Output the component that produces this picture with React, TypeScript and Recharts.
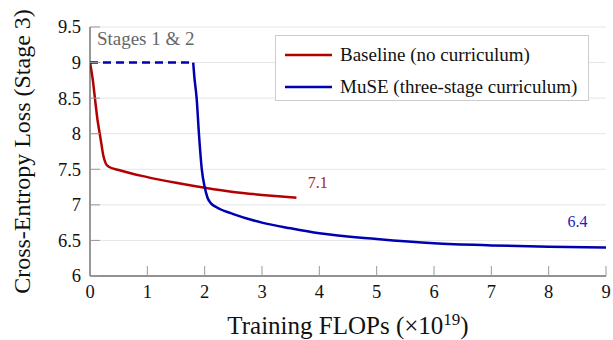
import React from 'react';
import { LineChart, Line, XAxis, YAxis, CartesianGrid, Legend, ReferenceDot } from 'recharts';

const xTicks = [0, 1, 2, 3, 4, 5, 6, 7, 8, 9];
const yTicks = [6, 6.5, 7, 7.5, 8, 8.5, 9, 9.5];

// Baseline (no curriculum)
const baselineFlops = [0, 0.05, 0.09, 0.13, 0.17, 0.2, 0.23, 0.27, 0.32, 0.5, 1, 1.5, 2, 2.5, 3, 3.6];
const baselineLoss = [9.0, 8.75, 8.47, 8.2, 8.0, 7.85, 7.7, 7.59, 7.54, 7.49, 7.39, 7.31, 7.24, 7.18, 7.14, 7.1];

// MuSE stages 1 & 2 (dashed, loss not measured on stage 3)
const stagesFlops = [0, 1.8];
const stagesLoss = [9.0, 9.0];

// MuSE stage 3
const museFlops = [1.8, 1.82, 1.86, 1.9, 1.95, 2.0, 2.05, 2.1, 2.2, 2.5, 3, 3.5, 4, 5, 6, 7, 8, 9];
const museLoss = [9.0, 8.8, 8.5, 8.0, 7.5, 7.25, 7.1, 7.03, 6.97, 6.87, 6.75, 6.67, 6.6, 6.52, 6.46, 6.43, 6.41, 6.4];

const zip = (xs: number[], ys: number[]) => xs.map((x, i) => ({ x, y: ys[i] }));
const baselineData = zip(baselineFlops, baselineLoss);
const stagesData = zip(stagesFlops, stagesLoss);
const museData = zip(museFlops, museLoss);

const RED = '#b30000';
const BLUE = '#0000b3';
const FONT =
  "'Liberation Serif', 'Times New Roman', Times, 'Nimbus Roman', 'Noto Serif', 'DejaVu Serif', FreeSerif, serif";
const TICK = '#999';

const BottomTick = ({ x, y, payload }: any) => (
  <g>
    <line x1={x} x2={x} y1={y} y2={y - 10} stroke={TICK} />
    <text x={x} y={y + 22} textAnchor="middle" fontFamily={FONT} fontSize={18.5} fill="#111">
      {payload.value}
    </text>
  </g>
);

const LeftTick = ({ x, y, payload }: any) => (
  <g>
    <line x1={x} x2={x + 10} y1={y} y2={y} stroke={TICK} />
    <text x={x - 9} y={y} dy="0.35em" textAnchor="end" fontFamily={FONT} fontSize={18.5} fill="#111">
      {payload.value}
    </text>
  </g>
);

const TopTick = ({ x, y }: any) => <line x1={x} x2={x} y1={y} y2={y + 10} stroke={TICK} />;
const RightTick = ({ x, y }: any) => <line x1={x - 10} x2={x} y1={y} y2={y} stroke={TICK} />;

const LegendBox = ({ payload }: any) => (
  <div
    style={{
      width: 312,
      height: 64,
      border: '1px solid #ccc',
      background: '#fff',
      fontFamily: FONT,
      fontSize: 19,
      color: '#111',
      boxSizing: 'content-box',
    }}
  >
    {(payload || [])
      .filter((item: any) => item.type !== 'none' && item.value !== 'Stages 1 & 2')
      .map((item: any) => (
        <div key={item.value} style={{ display: 'flex', alignItems: 'center', height: 27, marginTop: 5 }}>
          <svg width={64} height={10}>
            <line x1={9} x2={56} y1={5} y2={5} stroke={item.color} strokeWidth={2.5} />
          </svg>
          <span>{item.value}</span>
        </div>
      ))}
  </div>
);

const XTitle = ({ viewBox }: any) => {
  const cx = viewBox.x + viewBox.width / 2;
  return (
    <text x={cx} y={334} textAnchor="middle" fontFamily={FONT} fontSize={25} fill="#111">
      Training FLOPs (×10
      <tspan dy={-9} fontSize={17}>19</tspan>
      <tspan dy={9}>)</tspan>
    </text>
  );
};

const YTitle = ({ viewBox }: any) => {
  const cy = viewBox.y + viewBox.height / 2;
  return (
    <text
      x={22}
      y={cy}
      transform={`rotate(-90, 22, ${cy})`}
      textAnchor="middle"
      dominantBaseline="central"
      fontFamily={FONT}
      fontSize={24}
      fill="#111"
    >
      Cross-Entropy Loss (Stage 3)
    </text>
  );
};

const note = (text: string, color: string, size: number) => ({ viewBox }: any) => (
  <text x={viewBox.x} y={viewBox.y} fontFamily={FONT} fontSize={size} fill={color}>
    {text}
  </text>
);

export default function App() {
  return (
    <div style={{ position: 'absolute', left: 0, top: 0, background: '#fff' }}>
      <LineChart width={613} height={340} margin={{ top: 27, right: 7, bottom: 0, left: 0 }}>
        <CartesianGrid vertical={false} stroke="#e6e6e6" />
        <XAxis
          dataKey="x"
          type="number"
          domain={[0, 9]}
          ticks={xTicks}
          height={64}
          tickSize={0}
          tickMargin={0}
          tick={BottomTick}
          axisLine={{ stroke: '#333' }}
          tickLine={false}
          allowDataOverflow
          label={<XTitle />}
        />
        <XAxis
          xAxisId="top"
          orientation="top"
          dataKey="x"
          type="number"
          domain={[0, 9]}
          ticks={xTicks}
          height={0}
          tickSize={0}
          tickMargin={0}
          tick={TopTick}
          axisLine={{ stroke: '#333' }}
          tickLine={false}
        />
        <YAxis
          type="number"
          domain={[6, 9.5]}
          ticks={yTicks}
          width={90}
          tickSize={0}
          tickMargin={0}
          tick={LeftTick}
          axisLine={{ stroke: '#333' }}
          tickLine={false}
          allowDataOverflow
          label={<YTitle />}
        />
        <YAxis
          yAxisId="right"
          orientation="right"
          type="number"
          domain={[6, 9.5]}
          ticks={yTicks}
          width={0}
          tickSize={0}
          tickMargin={0}
          tick={RightTick}
          axisLine={{ stroke: '#333' }}
          tickLine={false}
        />
        <Legend
          layout="vertical"
          align="center"
          verticalAlign="middle"
          content={<LegendBox />}
          wrapperStyle={{ left: 275, top: 35, width: 314, height: 66 }}
        />
        <Line
          name="Baseline (no curriculum)"
          data={baselineData}
          dataKey="y"
          type="monotone"
          stroke={RED}
          strokeWidth={2.5}
          dot={false}
          isAnimationActive={false}
        />
        <Line
          name="MuSE (three-stage curriculum)"
          data={museData}
          dataKey="y"
          type="monotone"
          stroke={BLUE}
          strokeWidth={2.5}
          dot={false}
          isAnimationActive={false}
        />
        <Line
          name="Stages 1 & 2"
          data={stagesData}
          dataKey="y"
          type="linear"
          stroke={BLUE}
          strokeWidth={2.5}
          strokeDasharray="8 5"
          dot={false}
          legendType="none"
          isAnimationActive={false}
        />
        <ReferenceDot x={0.12} y={9.24} r={0} stroke="none" label={note('Stages 1 & 2', '#666', 19)} />
        <ReferenceDot x={3.8} y={7.24} r={0} stroke="none" label={note('7.1', '#aa2020', 16)} />
        <ReferenceDot x={8.33} y={6.69} r={0} stroke="none" label={note('6.4', '#2020bb', 16)} />
      </LineChart>
    </div>
  );
}
